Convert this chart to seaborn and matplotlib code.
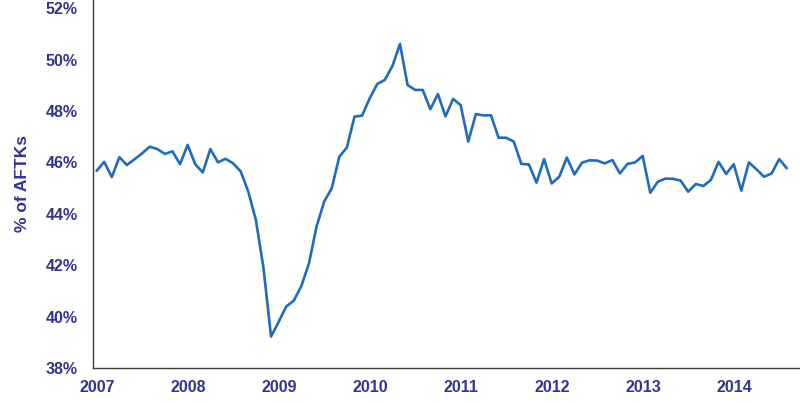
import numpy as np
import pandas as pd
import matplotlib
matplotlib.use("Agg")
import matplotlib.pyplot as plt
import matplotlib.transforms as mtrans
import seaborn as sns
from matplotlib.ticker import MultipleLocator, FuncFormatter

# monthly share of AFTKs, Jan 2007 - Aug 2014
v2007 = [45.67, 46.02, 45.43, 46.20, 45.90, 46.12, 46.35, 46.61, 46.52, 46.33, 46.43, 45.93]
v2008 = [46.68, 45.93, 45.61, 46.52, 46.00, 46.14, 45.96, 45.65, 44.86, 43.76, 41.90, 39.22]
v2009 = [39.79, 40.39, 40.62, 41.19, 42.07, 43.50, 44.47, 44.99, 46.22, 46.58, 47.78, 47.82]
v2010 = [48.49, 49.05, 49.21, 49.75, 50.61, 49.01, 48.82, 48.82, 48.07, 48.66, 47.79, 48.47]
v2011 = [48.23, 46.81, 47.88, 47.83, 47.83, 46.96, 46.96, 46.81, 45.94, 45.92, 45.21, 46.13]
v2012 = [45.18, 45.44, 46.19, 45.53, 45.99, 46.08, 46.07, 45.96, 46.09, 45.57, 45.94, 46.00]
v2013 = [46.25, 44.82, 45.25, 45.37, 45.36, 45.29, 44.86, 45.16, 45.08, 45.32, 46.02, 45.55]
v2014 = [45.93, 44.90, 46.00, 45.73, 45.44, 45.57, 46.13, 45.77]

years = [2007, 2008, 2009, 2010, 2011, 2012, 2013, 2014]
pct = v2007 + v2008 + v2009 + v2010 + v2011 + v2012 + v2013 + v2014

months = pd.date_range("2007-01-01", periods=len(pct), freq="MS")
df = pd.DataFrame({"month": months, "pct": pct})
# mid-month position as fractional year
df["t"] = df["month"].dt.year + (df["month"].dt.month - 0.5) / 12

txt = "#343392"
line_col = "#1f6cbc"
axis_col = "#3a3a3a"

sns.set_style("white")
plt.rcParams["font.family"] = ["Liberation Sans", "DejaVu Sans"]

fig = plt.figure(figsize=(8, 4.03), dpi=100)
ax = fig.add_axes([0.116, 0.087, 0.884, 0.913])

sns.lineplot(data=df, x="t", y="pct", color=line_col, linewidth=1.9, ax=ax)

ax.set_xlim(2007, 2014.77)
ax.set_ylim(38, 52.32)

# y axis: majors every 2%, minors every 0.4%, outward
ax.yaxis.set_major_locator(MultipleLocator(2))
ax.yaxis.set_minor_locator(MultipleLocator(0.4))
ax.yaxis.set_major_formatter(FuncFormatter(lambda v, p: f"{v:.0f}%"))
ax.tick_params(axis="y", which="major", direction="out", length=5, width=1,
               color=axis_col, labelsize=11.5, labelcolor=txt, pad=6)
ax.tick_params(axis="y", which="minor", direction="out", length=3, width=1, color=axis_col)

# x axis: tick marks every half year pointing inward, labels on years
half = np.arange(2007, 2015, 0.5)
ax.set_xticks(half)
ax.set_xticklabels([str(int(t)) if t == int(t) else "" for t in half])
ax.tick_params(axis="x", which="major", direction="in", length=4, width=1,
               color=axis_col, labelsize=11.5, labelcolor=txt, pad=9)

shift = mtrans.ScaledTranslation(4 / 100, 0, fig.dpi_scale_trans)
for lab in ax.get_xticklabels():
    lab.set_fontweight("bold")
    lab.set_transform(lab.get_transform() + shift)
for lab in ax.get_yticklabels():
    lab.set_fontweight("bold")

ax.set_xlabel("")
ax.set_ylabel("% of AFTKs", fontsize=12.5, fontweight="bold", color=txt, labelpad=11)

sns.despine(ax=ax)
for s in ["left", "bottom"]:
    ax.spines[s].set_color(axis_col)
    ax.spines[s].set_linewidth(1)

fig.savefig("out.png", dpi=100)
